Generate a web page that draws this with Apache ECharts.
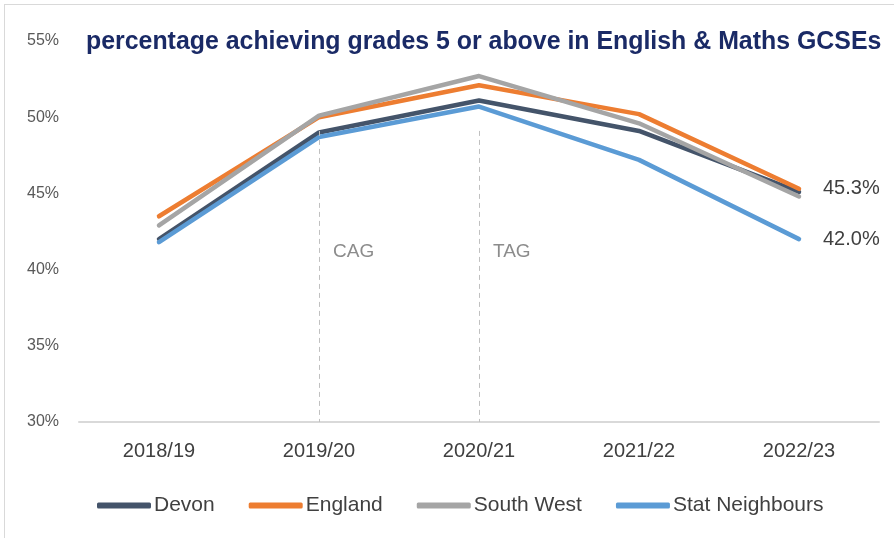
<!DOCTYPE html>
<html>
<head>
<meta charset="utf-8">
<script src="https://cdn.jsdelivr.net/npm/echarts@6/dist/echarts.min.js"></script>
<style>
  html, body { margin: 0; padding: 0; background: #fff; }
  #chart { position: absolute; left: 4px; top: 4px; width: 890px; height: 534px;
           border-left: 1px solid #d9d9d9; border-top: 1px solid #d9d9d9; box-sizing: border-box; }
</style>
</head>
<body>
<div id="chart"></div>
<script>
// data
var years = ['2018/19', '2019/20', '2020/21', '2021/22', '2022/23'];
var devon = [42.0, 49.0, 51.1, 49.1, 45.1];
var england = [43.5, 50.0, 52.1, 50.2, 45.3];
var southWest = [42.9, 50.1, 52.7, 49.6, 44.8];
var statNeighbours = [41.8, 48.7, 50.7, 47.2, 42.0];
var yTicks = [30, 35, 40, 45, 50, 55];
var gradeNotes = [['2019/20', 'CAG'], ['2020/21', 'TAG']];

var chartDom = document.getElementById('chart');
var myChart = echarts.init(chartDom);
var textFont = 'Liberation Sans, sans-serif';

function makeSeries(name, data, color, labelled) {
  return {
    name: name,
    type: 'line',
    data: data,
    symbol: 'none',
    lineStyle: { width: 4.5, color: color, cap: 'round', join: 'round' },
    itemStyle: { color: color },
    endLabel: {
      show: labelled,
      distance: 24,
      formatter: function (p) { return p.value.toFixed(1) + '%'; },
      fontFamily: textFont,
      fontSize: 20,
      color: '#404040'
    },
    emphasis: { disabled: true }
  };
}

var devonSeries = makeSeries('Devon', devon, '#44546a', false);
devonSeries.markLine = {
  silent: true,
  symbol: 'none',
  lineStyle: { type: [5, 4], color: '#c0c0c0', width: 1 },
  label: { show: false },
  data: gradeNotes.map(function (n) {
    return [{ coord: [n[0], 49.1] }, { coord: [n[0], 30] }];
  })
};
devonSeries.markPoint = {
  silent: true,
  symbol: 'circle',
  symbolSize: 0,
  label: {
    show: true,
    position: 'right',
    distance: 14,
    fontFamily: textFont,
    fontSize: 19,
    color: '#8c8c8c',
    formatter: function (p) { return p.name; }
  },
  data: gradeNotes.map(function (n) {
    return { name: n[1], coord: [n[0], 41.2] };
  })
};

var option = {
  animation: false,
  title: {
    text: 'percentage achieving grades 5 or above in English & Maths GCSEs',
    left: 76,
    top: 20,
    textStyle: { fontFamily: textFont, fontSize: 24.9, fontWeight: 'bold', color: '#1a2a66' }
  },
  legend: {
    bottom: 17,
    left: 87,
    icon: 'roundRect',
    itemWidth: 54,
    itemHeight: 6,
    itemGap: 34,
    textStyle: { fontFamily: textFont, fontSize: 21, color: '#404040', padding: [0, 0, 0, -2] },
    data: ['Devon', 'England', 'South West', 'Stat Neighbours']
  },
  grid: { left: 74, right: 15, top: 36, bottom: 116 },
  xAxis: {
    type: 'category',
    data: years,
    axisLine: { show: true, lineStyle: { color: '#d9d9d9', width: 2 } },
    axisTick: { show: false },
    axisLabel: { margin: 19, fontFamily: textFont, fontSize: 20, color: '#404040' }
  },
  yAxis: {
    type: 'value',
    min: yTicks[0],
    max: yTicks[yTicks.length - 1],
    interval: 5,
    axisLine: { show: false },
    axisTick: { show: false },
    splitLine: { show: false },
    axisLabel: { margin: 20, fontFamily: textFont, fontSize: 16, color: '#595959', formatter: '{value}%' }
  },
  series: [
    devonSeries,
    makeSeries('England', england, '#ed7d31', true),
    makeSeries('South West', southWest, '#a5a5a5', false),
    makeSeries('Stat Neighbours', statNeighbours, '#5b9bd5', true)
  ]
};
option && myChart.setOption(option);
</script>
</body>
</html>
